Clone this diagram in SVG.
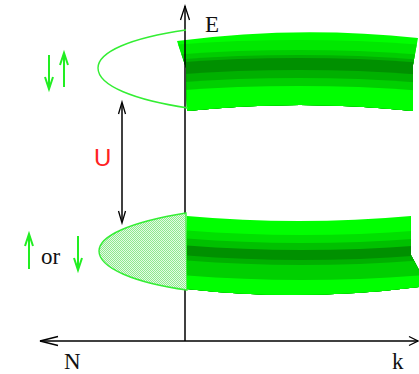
<svg xmlns="http://www.w3.org/2000/svg" width="419" height="374" viewBox="0 0 419 374">
<defs>
<style>
.ax{stroke:#000;stroke-width:1.5;fill:none}
.ah{stroke:#000;stroke-width:1.3;fill:none;stroke-linejoin:miter}
.sp{stroke:#22ee22;stroke-width:2;fill:none}
.dos{stroke:#33ee33;stroke-width:1.4}
.lbl{font-family:"Liberation Serif","Times New Roman",serif;font-size:23px;fill:#111}
</style>
<pattern id="hatch" width="2" height="2" patternUnits="userSpaceOnUse">
<rect width="2" height="2" fill="#e4fbe4"/>
<rect width="1" height="1" fill="#8ee88e"/>
<rect x="1" y="1" width="1" height="1" fill="#8ee88e"/>
</pattern>
<clipPath id="cu"><path d="M177,41 Q297,25 418,38 L413,65 L413,111 Q300,99 187,111 L186,68 Z"/></clipPath>
<clipPath id="cl"><path d="M187,216 Q299,226 411,216 L411,255 L419,270 L419,287 Q300,302 187,289 Z"/></clipPath>
</defs>

<g id="upper-band" clip-path="url(#cu)">
<rect x="170" y="20" width="255" height="100" fill="#00ff00"/>
<path d="M170,45 Q300,35 425,45 L425,140 L170,140 Z" fill="#00e800"/>
<path d="M170,55 Q300,45 425,55 L425,140 L170,140 Z" fill="#00cc00"/>
<path d="M170,60 Q300,50 425,60 L425,140 L170,140 Z" fill="#00b000"/>
<path d="M170,63 Q300,53 425,63 L425,140 L170,140 Z" fill="#009000"/>
<path d="M170,75 Q300,65 425,75 L425,140 L170,140 Z" fill="#00b000"/>
<path d="M170,83 Q300,73 425,83 L425,140 L170,140 Z" fill="#00d000"/>
<path d="M170,91 Q300,81 425,91 L425,140 L170,140 Z" fill="#00ff00"/>
</g>

<g id="axes">
<line class="ax" x1="185" y1="341" x2="185" y2="6"/>
<path class="ah" d="M180.5,20 L185,6 L189.5,20"/>
<line class="ax" x1="40" y1="341" x2="418" y2="341"/>
<path class="ah" d="M58,336.5 L40,341 L58,345.5"/>
<path class="ah" d="M409,336.5 L418,341 L409,345.5"/>
</g>

<g id="upper-dos">
<path class="dos" fill="none" d="M186,30 C130,38 98,52 98,68 C98,86 135,100 188,108"/>
</g>

<g id="lower-dos">
<path class="dos" fill="url(#hatch)" d="M186,213 C130,222 99,236 99,251 C99,268 135,283 187,290 Z"/>
</g>

<g id="lower-band" clip-path="url(#cl)">
<rect x="180" y="205" width="245" height="110" fill="#00ff00"/>
<path d="M180,230 Q300,240 425,230 L425,320 L180,320 Z" fill="#00e000"/>
<path d="M180,238 Q300,248 425,238 L425,320 L180,320 Z" fill="#00c000"/>
<path d="M180,245 Q300,255 425,245 L425,320 L180,320 Z" fill="#009000"/>
<path d="M180,255 Q300,265 425,255 L425,320 L180,320 Z" fill="#00b000"/>
<path d="M180,260 Q300,270 425,260 L425,320 L180,320 Z" fill="#00d000"/>
<path d="M180,275 Q300,285 425,275 L425,320 L180,320 Z" fill="#00ff00"/>
</g>

<g id="connectors">
<line class="ax" x1="122" y1="103" x2="122" y2="222"/>
<path class="ah" d="M118.5,114 L122,102 L125.5,114"/>
<path class="ah" d="M118.5,211 L122,223 L125.5,211"/>
</g>

<g id="spin-upper">
<line class="sp" x1="49" y1="55" x2="49" y2="88"/>
<path class="sp" d="M45,77 L49,89 L53,77"/>
<line class="sp" x1="64" y1="54" x2="64" y2="87"/>
<path class="sp" d="M60,65 L64,53 L68,65"/>
</g>

<g id="spin-lower">
<line class="sp" x1="29" y1="235" x2="29" y2="269"/>
<path class="sp" d="M25,246 L29,234 L33,246"/>
<text class="lbl" x="41" y="264">or</text>
<line class="sp" x1="78" y1="236" x2="78" y2="269"/>
<path class="sp" d="M74,258 L78,270 L82,258"/>
</g>

<g id="labels">
<text class="lbl" x="205" y="32">E</text>
<text class="lbl" x="64" y="369">N</text>
<text class="lbl" x="392" y="369">k</text>
<text x="94" y="166" font-family="'Liberation Sans',Arial,sans-serif" font-size="24" fill="#ff2222">U</text>
</g>
</svg>
